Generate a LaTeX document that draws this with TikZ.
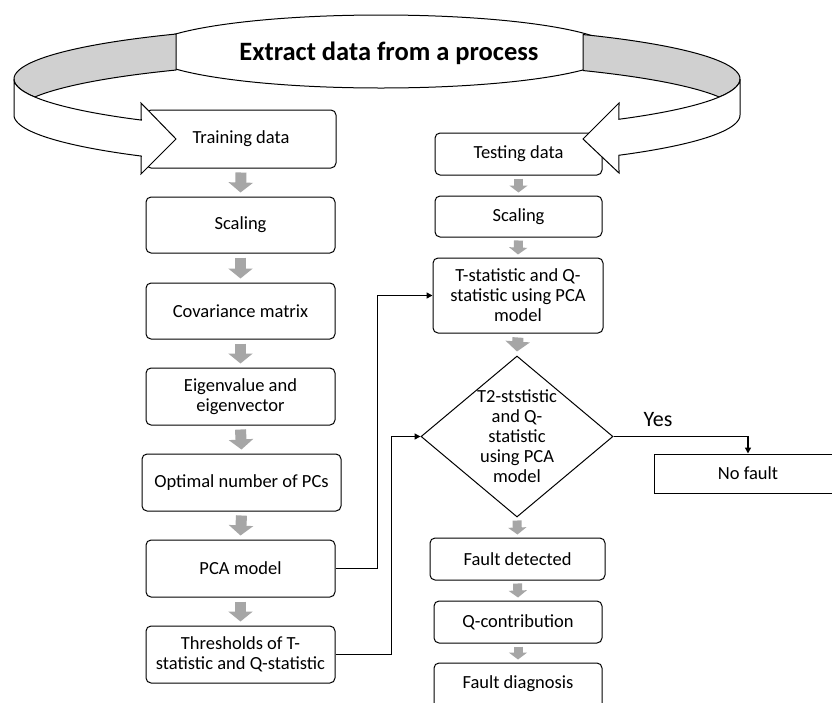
\documentclass[tikz,border=0pt]{standalone}
\usepackage{fontspec}
\setmainfont{Carlito}
\usetikzlibrary{arrows.meta,shapes.geometric}
\definecolor{bandgray}{HTML}{D0D0D0}
\definecolor{stepgray}{HTML}{A6A6A6}

\begin{document}
\begin{tikzpicture}[x=1pt,y=-1pt,
  box/.style={draw, line width=1pt, rounded corners=5pt, fill=white, align=center,
    inner sep=0pt, font=\fontsize{18.5}{20}\selectfont},
  plainbox/.style={draw, line width=1pt, fill=white, align=center, inner sep=0pt,
    font=\fontsize{18.5}{20}\selectfont},
  lbl/.style={align=center, inner sep=0pt, font=\fontsize{18.5}{20}\selectfont},
  band/.style={draw, line width=1pt, fill=bandgray, line join=round},
  front/.style={draw, line width=1pt, fill=white, line join=miter},
  bigstep/.style={draw=stepgray, line width=11pt, -{Triangle[length=10pt,width=24pt]}},
  smallstep/.style={draw=stepgray, line width=9pt, -{Triangle[length=7pt,width=18pt]}},
  conn/.style={line width=1.5pt, -{Triangle[length=6pt,width=6pt]}}
]
\clip (0,0) rectangle (832,702);
\fill[white] (0,0) rectangle (832,702);

% source of the data: ellipse with its title
\node[draw, line width=1pt, fill=white, ellipse, minimum width=468pt, minimum height=73pt, inner sep=0pt] (src) at (381,51.5) {};
\node[inner sep=0pt, font=\fontsize{26.5}{30}\selectfont\bfseries] (title) at (389,53) {Extract data from a process};

% back (grey) parts of the ring
\filldraw[band] plot[variable=\t, domain=236.4:160.53, samples=50] ({377+363*cos(\t)},{79+54*sin(\t)})
  -- plot[variable=\t, domain=199.47:236.4, samples=30] ({377+363*cos(\t)},{115+54*sin(\t)}) -- cycle;
\filldraw[band] plot[variable=\t, domain=304.6:379.47, samples=50] ({377+363*cos(\t)},{79+54*sin(\t)})
  -- plot[variable=\t, domain=340.53:304.6, samples=30] ({377+363*cos(\t)},{115+54*sin(\t)}) -- cycle;

% training column
\node[box, minimum width=190pt, minimum height=58pt] (train) at (241,139) {Training data};
\node[box, minimum width=189pt, minimum height=56pt] (scaleL) at (240.5,225) {Scaling};
\node[box, minimum width=189pt, minimum height=56pt] (cov) at (240.5,311) {Covariance matrix};
\node[box, minimum width=189pt, minimum height=57pt] (eig) at (240.5,396.5) {Eigenvalue and\\eigenvector};
\node[box, minimum width=199pt, minimum height=57pt] (opt) at (241.5,482.5) {Optimal number of PCs};
\node[box, minimum width=189pt, minimum height=57pt] (pca) at (240.5,568.5) {PCA model};
\node[box, minimum width=189pt, minimum height=57pt] (thr) at (240.5,654.5) {Thresholds of T-\\statistic and Q-statistic};

% testing column
\node[box, minimum width=167pt, minimum height=42pt] (test) at (518.5,154) {Testing data};
\node[box, minimum width=167pt, minimum height=41pt] (scaleR) at (518.5,216.5) {Scaling};
\node[box, minimum width=170pt, minimum height=75pt] (tstat) at (518,295.5) {T-statistic and Q-\\statistic using PCA\\model};
\node[draw, line width=1pt, fill=white, diamond, minimum width=192pt, minimum height=161pt, inner sep=0pt] (dec) at (517,436.5) {};
\node[lbl] (dectext) at (dec.center) {T2-ststistic\\and Q-\\statistic\\using PCA\\model};
\node[box, minimum width=175pt, minimum height=42pt] (fdet) at (517.5,559) {Fault detected};
\node[box, minimum width=168pt, minimum height=42pt] (qcon) at (518,622) {Q-contribution};
\node[box, minimum width=168pt, minimum height=57pt] (fdiag) at (518,691.5) {};
\node[lbl] (fdiagtext) at (518,684) {Fault diagnosis};
\node[plainbox, minimum width=188pt, minimum height=39pt] (nofault) at (748,473.5) {No fault};

% front (white) parts of the ring ending in the two arrows
\filldraw[front] plot[variable=\t, domain=180:130.5, samples=50] ({377+363*cos(\t)},{79+54*sin(\t)})
  -- (141,103) -- (176,139) -- (141,174)
  -- plot[variable=\t, domain=130.5:180, samples=50] ({377+363*cos(\t)},{115+54*sin(\t)}) -- cycle;
\filldraw[front] plot[variable=\t, domain=0:48.2, samples=50] ({377+363*cos(\t)},{79+54*sin(\t)})
  -- (619,103) -- (583,139) -- (619,173)
  -- plot[variable=\t, domain=48.2:0, samples=50] ({377+363*cos(\t)},{115+54*sin(\t)}) -- cycle;

% grey step arrows, training column
\draw[bigstep] ([yshift=-4pt]train.south) -- ([yshift=4pt]scaleL.north);
\draw[bigstep] ([yshift=-4pt]scaleL.south) -- ([yshift=4pt]cov.north);
\draw[bigstep] ([yshift=-4pt]cov.south) -- ([yshift=4pt]eig.north);
\draw[bigstep] ([yshift=-4pt]eig.south) -- ([yshift=4pt]opt.north);
\draw[bigstep] ([yshift=-4pt]opt.south) -- ([yshift=4pt]pca.north);
\draw[bigstep] ([yshift=-4pt]pca.south) -- ([yshift=4pt]thr.north);

% grey step arrows, testing column
\draw[smallstep] ([yshift=-3pt]test.south) -- ([yshift=3pt]scaleR.north);
\draw[smallstep] ([yshift=-3pt]scaleR.south) -- ([yshift=3pt]tstat.north);
\draw[bigstep] ([yshift=-4pt]tstat.south) -- ([yshift=4pt]dec.north);
\draw[smallstep] ([yshift=-3pt]dec.south) -- ([yshift=3pt]fdet.north);
\draw[smallstep] ([yshift=-3pt]fdet.south) -- ([yshift=3pt]qcon.north);
\draw[smallstep] ([yshift=-3pt]qcon.south) -- ([yshift=3pt]fdiag.north);

% black connectors
\draw[conn] (pca.east) -- ++(42,0) |- (tstat.west);
\draw[conn] (thr.east) -- ++(56,0) |- (dec.west);
\draw[conn] (dec.east) -| (nofault.north);
\node[inner sep=0pt, font=\fontsize{22}{24}\selectfont] (yes) at (658,420) {Yes};
\end{tikzpicture}
\end{document}
